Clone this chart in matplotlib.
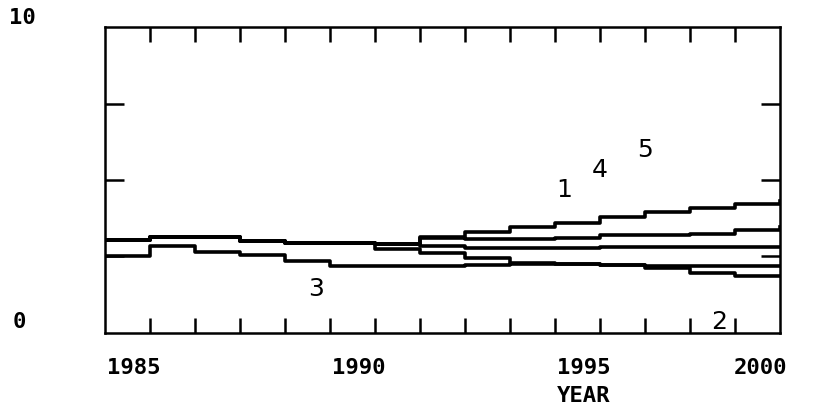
import matplotlib
matplotlib.use("Agg")
import matplotlib.pyplot as plt

# annual values, each held until the next year
years = list(range(1985, 2001))
s1 = [3.05, 3.14, 3.14, 3.0, 2.94, 2.94, 2.92, 3.15, 3.3, 3.45, 3.6, 3.78, 3.95, 4.08, 4.22, 4.3]
s2 = [3.05, 3.14, 3.14, 3.0, 2.94, 2.94, 2.75, 2.6, 2.45, 2.28, 2.25, 2.22, 2.12, 1.96, 1.85, 1.85]
s3 = [2.5, 2.85, 2.65, 2.55, 2.35, 2.2, 2.2, 2.2, 2.22, 2.25, 2.25, 2.22, 2.2, 2.2, 2.2, 2.2]
s4 = [3.05, 3.14, 3.14, 3.0, 2.94, 2.94, 2.92, 3.1, 3.07, 3.07, 3.1, 3.2, 3.2, 3.25, 3.37, 3.46]
s5 = [3.05, 3.14, 3.14, 3.0, 2.94, 2.94, 2.92, 2.85, 2.78, 2.78, 2.78, 2.8, 2.8, 2.8, 2.8, 2.8]
series = [s1, s2, s3, s4, s5]

curve_names = ["1", "4", "5", "3", "2"]
curve_x = [1995.2, 1996.0, 1997.0, 1989.7, 1998.65]
curve_y = [4.67, 5.33, 5.98, 1.44, 0.36]

year_labels = ["1985", "1990", "1995", "2000"]
year_pos = [1985, 1990, 1995, 2000]

mono = "DejaVu Sans Mono"

fig = plt.figure(figsize=(8.19, 4.11), dpi=100)
ax = fig.add_axes([0.1282, 0.1898, 0.8242, 0.7445])

for s in series:
    ax.step(years, s, where="post", color="black", linewidth=2.6)

ax.set_xlim(1985, 2000)
ax.set_ylim(0, 10)

ax.set_xticks(range(1986, 2000))
ax.set_yticks([2.5, 5, 7.5])
ax.tick_params(axis="x", direction="in", length=11, width=1.8, top=True,
               bottom=True, labelbottom=False)
ax.tick_params(axis="y", direction="in", length=14, width=1.8, left=True,
               right=True, labelleft=False)
for sp in ax.spines.values():
    sp.set_linewidth(1.8)

# year labels under the box
xtr = ax.get_xaxis_transform()
for lab, yr in zip(year_labels, year_pos):
    ha = "right" if yr == 2000 else "left"
    off = 0.15 if yr == 2000 else 0.05
    ax.text(yr + off, -0.115, lab, transform=xtr, ha=ha, va="center",
            fontsize=16, family=mono, fontweight="bold")
ax.text(1995.05, -0.205, "YEAR", transform=xtr, ha="left", va="center",
        fontsize=16, family=mono, fontweight="bold")

# value labels left of the box
ytr = ax.get_yaxis_transform()
ax.text(-0.142, 10.3, "10", transform=ytr, ha="left", va="center",
        fontsize=16, family=mono, fontweight="bold")
ax.text(-0.137, 0.35, "0", transform=ytr, ha="left", va="center",
        fontsize=16, family=mono, fontweight="bold")

for name, x, y in zip(curve_names, curve_x, curve_y):
    ax.text(x, y, name, ha="center", va="center", fontsize=18)

fig.savefig("out.png", dpi=100)
